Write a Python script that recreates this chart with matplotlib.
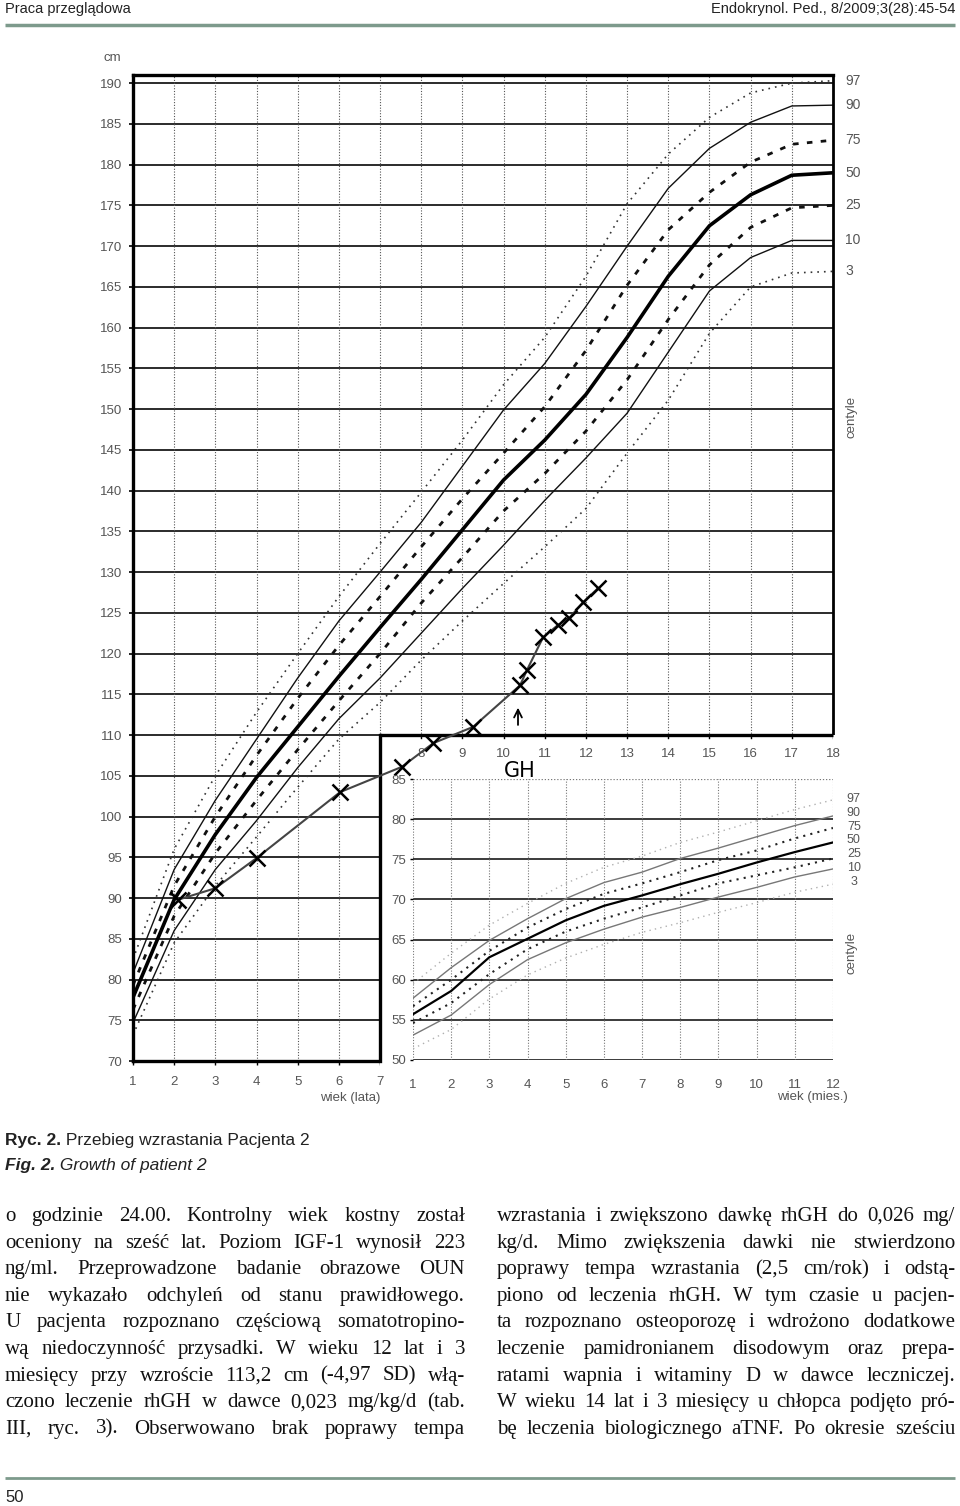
# -*- coding: utf-8 -*-
import matplotlib
matplotlib.use("Agg")
import matplotlib.pyplot as plt
import numpy as np
from matplotlib import font_manager
from matplotlib.font_manager import FontProperties
from matplotlib.patches import Rectangle

# siatka centylowa (wiek w latach, wzrost w cm)
ages = list(range(1, 19))
p97 = [82.5, 96.0, 105.0, 112.8, 120.0, 127.0, 133.5, 139.8, 146.2, 153.0, 158.8, 166.3, 175.2, 181.3, 185.8, 188.8, 190.0, 190.3]
p90 = [80.8, 93.5, 102.0, 109.5, 117.0, 124.0, 130.0, 136.1, 143.0, 149.9, 155.6, 162.6, 170.0, 177.1, 182.0, 185.2, 187.2, 187.3]
p75 = [79.3, 91.5, 100.0, 107.5, 114.5, 121.0, 127.0, 133.1, 139.0, 144.6, 150.3, 157.2, 165.2, 172.0, 176.6, 180.3, 182.5, 183.0]
p50 = [77.8, 89.8, 97.8, 104.8, 111.0, 117.2, 123.2, 129.1, 135.2, 141.3, 146.2, 151.8, 158.8, 166.3, 172.5, 176.3, 178.7, 179.0]
p25 = [76.3, 87.8, 95.5, 102.0, 108.2, 114.2, 120.0, 126.2, 131.8, 137.5, 142.1, 147.3, 153.6, 161.0, 167.7, 172.3, 174.7, 175.0]
p10 = [74.7, 86.0, 93.5, 99.5, 106.0, 112.0, 117.0, 122.5, 128.0, 133.3, 138.8, 144.0, 149.5, 157.0, 164.5, 168.6, 170.7, 170.7]
p3 = [73.2, 84.5, 91.5, 97.5, 103.6, 109.5, 114.0, 119.2, 124.0, 128.6, 133.1, 137.8, 144.6, 151.1, 159.3, 165.0, 166.7, 166.9]
centile_names = ["97", "90", "75", "50", "25", "10", "3"]

# wstawka: wiek w miesiącach
months = list(range(1, 13))
m97 = [59.5, 63.3, 66.8, 69.5, 72.0, 74.0, 75.4, 77.1, 78.4, 79.8, 81.2, 82.4]
m90 = [57.7, 61.5, 64.9, 67.6, 70.1, 72.1, 73.4, 75.1, 76.4, 77.8, 79.2, 80.4]
m75 = [56.7, 60.0, 63.6, 66.5, 68.8, 70.7, 72.0, 73.4, 74.9, 76.1, 77.6, 78.9]
m50 = [55.7, 58.6, 62.8, 65.1, 67.4, 69.2, 70.5, 71.9, 73.2, 74.6, 75.9, 77.1]
m25 = [54.6, 57.1, 60.7, 63.8, 66.0, 67.6, 69.0, 70.5, 72.0, 73.0, 74.0, 75.1]
m10 = [53.1, 55.6, 59.4, 62.5, 64.6, 66.3, 67.8, 69.0, 70.3, 71.5, 72.8, 73.8]
m3 = [51.4, 53.8, 57.6, 60.6, 62.7, 64.4, 65.9, 67.1, 68.4, 69.6, 70.9, 71.9]

# pomiary pacjenta
patient_age = [2.1, 3.0, 4.0, 6.03, 7.53, 8.29, 9.26, 10.4, 10.57, 10.96, 11.32, 11.6, 11.93, 12.29]
patient_cm = [89.8, 91.2, 94.9, 103.0, 106.1, 109.0, 111.0, 116.1, 118.0, 122.0, 123.5, 124.4, 126.3, 128.0]
gh_age = 10.35

header_left = "Praca przeglądowa"
header_right = "Endokrynol. Ped., 8/2009;3(28):45-54"
left_lines = [
    "o godzinie 24.00. Kontrolny wiek kostny został",
    "oceniony na sześć lat. Poziom IGF-1 wynosił 223",
    "ng/ml. Przeprowadzone badanie obrazowe OUN",
    "nie wykazało odchyleń od stanu prawidłowego.",
    "U pacjenta rozpoznano częściową somatotropino-",
    "wą niedoczynność przysadki. W wieku 12 lat i 3",
    "miesięcy przy wzroście 113,2 cm (-4,97 SD) włą-",
    "czono leczenie rhGH w dawce 0,023 mg/kg/d (tab.",
    "III, ryc. 3). Obserwowano brak poprawy tempa",
]
right_lines = [
    "wzrastania i zwiększono dawkę rhGH do 0,026 mg/",
    "kg/d. Mimo zwiększenia dawki nie stwierdzono",
    "poprawy tempa wzrastania (2,5 cm/rok) i odstą-",
    "piono od leczenia rhGH. W tym czasie u pacjen-",
    "ta rozpoznano osteoporozę i wdrożono dodatkowe",
    "leczenie pamidronianem disodowym oraz prepa-",
    "ratami wapnia i witaminy D w dawce leczniczej.",
    "W wieku 14 lat i 3 miesięcy u chłopca podjęto pró-",
    "bę leczenia biologicznego aTNF. Po okresie sześciu",
]


def pick_font(names):
    for n in names:
        try:
            font_manager.findfont(FontProperties(family=n), fallback_to_default=False)
            return n
        except ValueError:
            pass
    return "DejaVu Sans"


narrow = pick_font(["Liberation Sans Narrow", "Liberation Sans", "DejaVu Sans"])
sans = pick_font(["Liberation Sans", "DejaVu Sans"])
serif = pick_font(["Liberation Serif", "DejaVu Serif"])

fig = plt.figure(figsize=(9.6, 15.06), dpi=100)
fig.patch.set_facecolor("white")
renderer = fig.canvas.get_renderer()

# warstwa na tekst strony, w pikselach
ov = fig.add_axes([0, 0, 1, 1])
ov.set_xlim(0, 960)
ov.set_ylim(1506, 0)
ov.axis("off")


def text_w(t):
    return t.get_window_extent(renderer).width


# nagłówek
ov.text(5, 9, header_left, fontsize=10.5, ha="left", va="center", family=narrow, color="#222")
ov.text(955, 9, header_right, fontsize=10.5, ha="right", va="center", family=narrow, color="#222")
ov.plot([5, 955], [25, 25], color="#7d9a8c", lw=2.5, solid_capstyle="butt")

# --- wykres główny
ax = fig.add_axes([133 / 960, 1 - 1061 / 1506, 700 / 960, 986 / 1506])
ax.set_xlim(1, 18)
ax.set_ylim(70, 191)
for y in range(70, 191, 5):
    ax.axhline(y, color="#1a1a1a", lw=1.3, zorder=1)
for x in ages:
    ax.axvline(x, color="#555", lw=0.8, ls=(0, (1, 1.5)), zorder=1)

styles = {
    "97": dict(color="#333", lw=1.2, ls=(0, (1, 3))),
    "90": dict(color="#111", lw=1.0, ls="-"),
    "75": dict(color="#111", lw=2.0, ls=(0, (2, 3))),
    "50": dict(color="#000", lw=2.6, ls="-"),
    "25": dict(color="#111", lw=2.0, ls=(0, (2, 3))),
    "10": dict(color="#111", lw=1.0, ls="-"),
    "3": dict(color="#333", lw=1.2, ls=(0, (1, 3))),
}
curves = [p97, p90, p75, p50, p25, p10, p3]
for name, vals in zip(centile_names, curves):
    ax.plot(ages, vals, zorder=2, **styles[name])
    ax.annotate(name, (18, vals[-1]), xytext=(9, 0), textcoords="offset points",
                ha="left", va="center", fontsize=10, color="#555", family=sans,
                annotation_clip=False)
ax.annotate("centyle", (18, 149), xytext=(13, 0), textcoords="offset points", rotation=90,
            ha="center", va="center", fontsize=9.5, color="#555", family=sans,
            annotation_clip=False)

for s in ax.spines.values():
    s.set_color("black")
    s.set_linewidth(2.4)
ax.spines["right"].set_linewidth(2.0)
ax.set_yticks(range(70, 191, 5))
ax.set_xticks(ages)
ax.set_xticklabels([str(a) if a <= 7 else "" for a in ages])
ax.tick_params(axis="y", length=3, width=1.2, pad=5, labelsize=9.5, labelcolor="#555")
ax.tick_params(axis="x", length=3, width=1.0, pad=8, labelsize=9.5, labelcolor="#555")
for lab in ax.get_xticklabels() + ax.get_yticklabels():
    lab.set_family(sans)

# biała plansza pod wstawkę
ax.add_patch(Rectangle((7, 68.5), 11.6, 41.5, facecolor="white", edgecolor="none",
                       zorder=3, clip_on=False))
ax.plot([7, 18], [110, 110], color="black", lw=2.4, zorder=4, solid_capstyle="butt", clip_on=False)
ax.plot([7, 7], [70, 110], color="black", lw=2.4, zorder=4, clip_on=False)
for a in ages[7:]:
    ax.plot([a, a], [110, 109.6], color="black", lw=1.0, zorder=4)
    ax.annotate(str(a), (a, 110), xytext=(0, -9), textcoords="offset points", ha="center",
                va="top", fontsize=9.5, color="#555", family=sans, zorder=4)

# pacjent
ax.plot(patient_age, patient_cm, color="#444", lw=1.5, zorder=5, clip_on=False)
ax.plot(patient_age, patient_cm, ls="none", marker="x", ms=11, mew=1.8, color="black",
        zorder=6, clip_on=False)
ax.annotate("", xy=(gh_age, 113.7), xytext=(gh_age, 110.9),
            arrowprops=dict(arrowstyle="->", lw=1.3, color="black", mutation_scale=14), zorder=6)
ax.text(gh_age + 0.05, 105.6, "GH", ha="center", va="center", fontsize=15, color="black",
        family="DejaVu Sans", zorder=6)

# --- wstawka: niemowlęta
ax2 = fig.add_axes([413 / 960, 1 - 1060 / 1506, 420 / 960, 281 / 1506])
ax2.set_xlim(1, 12)
ax2.set_ylim(50, 85)
ax2.set_facecolor("white")
for s in ax2.spines.values():
    s.set_visible(False)
for y in range(50, 85, 5):
    ax2.axhline(y, color="#1a1a1a", lw=1.2, zorder=1)
ax2.axhline(85, color="#777", lw=0.9, ls=(0, (1, 1.5)), zorder=1)
for x in months:
    ax2.axvline(x, color="#777", lw=0.8, ls=(0, (1, 1.5)), zorder=1)

inset_styles = {
    "97": dict(color="#b0b0b0", lw=1.0, ls=(0, (1, 3))),
    "90": dict(color="#777", lw=1.0, ls="-"),
    "75": dict(color="#222", lw=1.5, ls=(0, (1, 2.5))),
    "50": dict(color="#000", lw=1.6, ls="-"),
    "25": dict(color="#222", lw=1.5, ls=(0, (1, 2.5))),
    "10": dict(color="#777", lw=1.0, ls="-"),
    "3": dict(color="#b0b0b0", lw=1.0, ls=(0, (1, 3))),
}
inset_curves = [m97, m90, m75, m50, m25, m10, m3]
for name, vals in zip(centile_names, inset_curves):
    ax2.plot(months, vals, zorder=2, **inset_styles[name])
label_y = np.linspace(82.5, 72.2, len(centile_names))
for name, yv in zip(centile_names, label_y):
    ax2.annotate(name, (12, yv), xytext=(15, 0), textcoords="offset points", ha="center",
                 va="center", fontsize=9, color="#555", family=narrow, annotation_clip=False)
ax2.annotate("centyle", (12, 63.3), xytext=(13, 0), textcoords="offset points", rotation=90,
             ha="center", va="center", fontsize=9.5, color="#555", family=sans,
             annotation_clip=False)
ax2.set_yticks(range(50, 86, 5))
ax2.set_xticks(months)
ax2.tick_params(axis="y", length=2, width=1.0, pad=3, labelsize=9.5, labelcolor="#555")
ax2.tick_params(axis="x", length=0, pad=14, labelsize=9.5, labelcolor="#555")
for lab in ax2.get_xticklabels() + ax2.get_yticklabels():
    lab.set_family(sans)

# opisy osi
ov.text(112, 58, "cm", ha="center", va="center", fontsize=9.5, color="#555", family=sans)
ov.text(350, 1098, "wiek (lata)", ha="center", va="center", fontsize=9.5, color="#555", family=sans)
ov.text(812, 1097, "wiek (mies.)", ha="center", va="center", fontsize=9.5, color="#555", family=sans)

# podpis rysunku
cap_size = 12.5
t1 = ov.text(5, 1145, "Ryc. 2.", fontsize=cap_size, va="baseline", family=narrow,
             weight="bold", color="#222")
ov.text(5 + text_w(t1), 1145, " Przebieg wzrastania Pacjenta 2", fontsize=cap_size,
        va="baseline", family=narrow, color="#222")
t2 = ov.text(5, 1170, "Fig. 2.", fontsize=cap_size, va="baseline", family=narrow,
             weight="bold", style="italic", color="#222")
ov.text(5 + text_w(t2), 1170, " Growth of patient 2", fontsize=cap_size, va="baseline",
        family=narrow, style="italic", color="#222")

# tekst w dwóch kolumnach, wyjustowany
line_y = [1221 + 26.6 * i for i in range(len(left_lines))]


def column_size(lines, width, size):
    worst = 0
    for line in lines:
        t = ov.text(0, 0, line, fontsize=size, family=serif)
        worst = max(worst, text_w(t))
        t.remove()
    return min(size, size * width / worst * 0.99)


def justify(lines, x0, x1, size):
    for y, line in zip(line_y, lines):
        words = line.split(" ")
        texts = [ov.text(0, y, w, fontsize=size, family=serif, va="baseline", color="#111")
                 for w in words]
        widths = [text_w(t) for t in texts]
        gap = (x1 - x0 - sum(widths)) / max(len(words) - 1, 1)
        x = x0
        for t, w in zip(texts, widths):
            t.set_x(x)
            x += w + gap


body_size = min(column_size(left_lines, 460, 15), column_size(right_lines, 458, 15))
justify(left_lines, 5, 465, body_size)
justify(right_lines, 497, 955, body_size)

# stopka
ov.plot([5, 955], [1478, 1478], color="#7d9a8c", lw=2.0, solid_capstyle="butt")
ov.text(5, 1497, "50", fontsize=12, ha="left", va="center", family=narrow, color="#222")

fig.savefig("out.png", dpi=100)
